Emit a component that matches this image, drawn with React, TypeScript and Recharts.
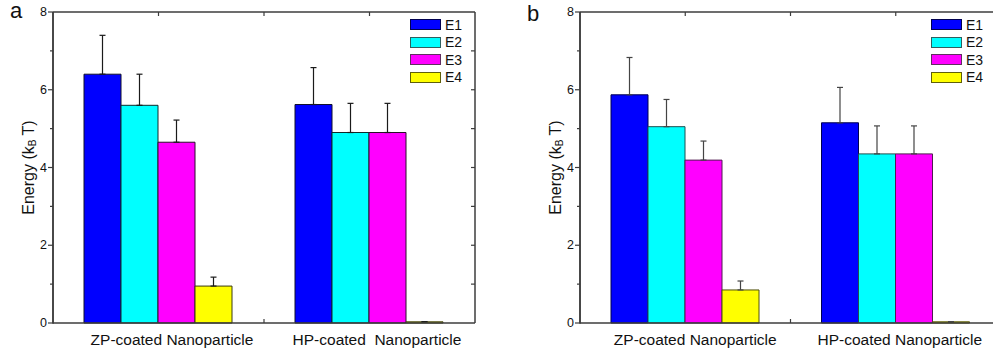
import React from 'react';
import { Bar, ComposedChart, ErrorBar, Legend, XAxis, YAxis } from 'recharts';

// categories / series
const catsA = ['ZP-coated Nanoparticle', 'HP-coated  Nanoparticle'];
const catsB = ['ZP-coated Nanoparticle', 'HP-coated Nanoparticle'];
const seriesNames = ['E1', 'E2', 'E3', 'E4'];
const yTicks = [0, 1, 2, 3, 4, 5, 6, 7, 8];

// panel a (energy in kBT, upper error)
const aE1 = [6.4, 5.62];
const aE2 = [5.6, 4.9];
const aE3 = [4.65, 4.9];
const aE4 = [0.95, 0.03];
const aE1Err = [1.0, 0.95];
const aE2Err = [0.8, 0.75];
const aE3Err = [0.57, 0.75];
const aE4Err = [0.23, 0];

// panel b
const bE1 = [5.87, 5.15];
const bE2 = [5.05, 4.35];
const bE3 = [4.19, 4.35];
const bE4 = [0.85, 0.03];
const bE1Err = [0.96, 0.91];
const bE2Err = [0.7, 0.72];
const bE3Err = [0.49, 0.72];
const bE4Err = [0.23, 0];

const FONT = '"Liberation Sans", Arial, sans-serif';
const AXIS = '#3c3c3c';
const fills = ['#0000ff', '#00ffff', '#ff00ff', '#ffff00'];
const H = 354;
const TOP = 12;
const XH = 31;

function buildRows(cats: string[], vals: number[][], errs: number[][]) {
  return cats.map((name, i) => {
    const row: any = { name };
    seriesNames.forEach((s, k) => {
      row[s] = vals[k][i];
      row[s + 'err'] = [0, errs[k][i]];
    });
    return row;
  });
}

const rowsA = buildRows(catsA, [aE1, aE2, aE3, aE4], [aE1Err, aE2Err, aE3Err, aE4Err]);
const rowsB = buildRows(catsB, [bE1, bE2, bE3, bE4], [bE1Err, bE2Err, bE3Err, bE4Err]);

const LeftTick = (props: any) => {
  const { x, y, payload } = props;
  const v = payload.value;
  const major = v % 2 === 0;
  if (!major) return <g />;
  return (
    <text x={x - 6} y={y} textAnchor="end" dominantBaseline="central" fontSize={12.5} fill="#111" fontFamily={FONT}>
      {v}
    </text>
  );
};

// box frame with tick marks around the plot area
function Frame({ width, x0, x1 }: { width: number; x0: number; x1: number }) {
  const y0 = TOP;
  const y1 = H - XH;
  const ky = (y1 - y0) / 8;
  return (
    <svg width={width} height={H} style={{ position: 'absolute', left: 0, top: 0, pointerEvents: 'none' }}>
      <g stroke={AXIS} strokeWidth={1.5} fill="none">
        <line x1={x0} x2={x0} y1={y0} y2={y1 + 0.75} />
        <line x1={x0} x2={x1} y1={y0} y2={y0} />
        <line x1={x1} x2={x1} y1={y0} y2={y1} />
      </g>
      <g stroke={AXIS} strokeWidth={1.2}>
        {yTicks.map((v) => (
          <line key={'l' + v} x1={x0} x2={x0 - (v % 2 === 0 ? 5 : 3)} y1={y1 - v * ky} y2={y1 - v * ky} />
        ))}
        {yTicks.slice(1, -1).map((v) => (
          <line key={'r' + v} x1={x1} x2={x1 - 4} y1={y1 - v * ky} y2={y1 - v * ky} />
        ))}
        {[1, 2, 3].map((q) => (
          <line key={'t' + q} x1={x0 + ((x1 - x0) * q) / 4} x2={x0 + ((x1 - x0) * q) / 4} y1={y0} y2={y0 + 4} />
        ))}
        <line x1={(x0 + x1) / 2} x2={(x0 + x1) / 2} y1={y1} y2={y1 - 4} />
      </g>
    </svg>
  );
}

function Panel({
  rows,
  width,
  yWidth,
  marginRight,
  strokes,
  legendStrokes,
  errColor,
  legendLeft,
  shifts,
}: {
  rows: any[];
  width: number;
  yWidth: number;
  marginRight: number;
  strokes: string[];
  legendStrokes: string[];
  errColor: string;
  legendLeft: number;
  shifts: number[];
}) {
  const CatTick = (p: any) => (
    <text
      x={p.x + shifts[p.index]}
      y={345}
      textAnchor="middle"
      fontSize={15.5}
      fill="#111"
      fontFamily={FONT}
      style={{ whiteSpace: 'pre' }}
    >
      {p.payload.value}
    </text>
  );
  const YLabel = (p: any) => {
    const vb = p.viewBox;
    const cx = vb.x + vb.width - 25;
    const cy = vb.y + vb.height / 2;
    return (
      <text
        x={cx}
        y={cy}
        transform={`rotate(-90 ${cx} ${cy})`}
        textAnchor="middle"
        dominantBaseline="central"
        fontSize={16}
        fill="#111"
        fontFamily={FONT}
      >
        Energy (k
        <tspan fontSize={10} dy={4}>B</tspan>
        <tspan dy={-4}> T)</tspan>
      </text>
    );
  };
  const LegendBox = () => (
    <div style={{ fontFamily: FONT, fontSize: 14, color: '#111' }}>
      {seriesNames.map((s, k) => (
        <div key={s} style={{ display: 'flex', alignItems: 'center', height: 17.5 }}>
          <div
            style={{
              width: 31,
              height: 11,
              boxSizing: 'border-box',
              background: fills[k],
              border: `1.3px solid ${legendStrokes[k]}`,
              marginRight: 4,
            }}
          />
          <span>{s}</span>
        </div>
      ))}
    </div>
  );
  return (
    <div style={{ position: 'relative', width, height: H }}>
      <ComposedChart
        width={width}
        height={H}
        data={rows}
        margin={{ top: TOP, right: marginRight, bottom: 0, left: 0 }}
        barGap={0}
        barCategoryGap={31}
      >
        <XAxis
          xAxisId="c"
          dataKey="name"
          height={XH}
          tickLine={false}
          axisLine={{ stroke: AXIS, strokeWidth: 1.5 }}
          tick={<CatTick />}
          interval={0}
        />
        <YAxis
          yAxisId="l"
          width={yWidth}
          domain={[0, 8]}
          ticks={yTicks}
          interval={0}
          tickLine={false}
          tickSize={0}
          tickMargin={0}
          tick={<LeftTick />}
          stroke={AXIS}
          axisLine={{ stroke: AXIS, strokeWidth: 1.5 }}
          label={<YLabel />}
        />
        <Legend
          layout="vertical"
          align="center"
          verticalAlign="middle"
          content={<LegendBox />}
          wrapperStyle={{ position: 'absolute', left: legendLeft, top: 16, width: 60 }}
        />
        {seriesNames.map((s, k) => (
          <Bar
            key={s}
            dataKey={s}
            xAxisId="c"
            yAxisId="l"
            fill={fills[k]}
            stroke={strokes[k]}
            strokeWidth={1}
            isAnimationActive={false}
          >
            <ErrorBar dataKey={s + 'err'} direction="y" width={3} stroke={errColor} strokeWidth={1.2} />
          </Bar>
        ))}
      </ComposedChart>
      <Frame width={width} x0={yWidth} x1={width - marginRight} />
    </div>
  );
}

export default function App() {
  return (
    <div
      style={{
        position: 'absolute',
        left: 0,
        top: 0,
        width: 993,
        height: 354,
        overflow: 'hidden',
        background: '#fff',
        fontFamily: FONT,
      }}
    >
      <div style={{ position: 'absolute', left: 0, top: 0 }}>
        <Panel
          rows={rowsA}
          width={493}
          yWidth={53}
          marginRight={18}
          strokes={['#10102a', '#102a2a', '#2a102a', '#3a3a10']}
          legendStrokes={['#000050', '#2f6060', '#602f60', '#60600a']}
          errColor="#1a1a1a"
          legendLeft={410}
          shifts={[13.5, 7.5]}
        />
      </div>
      <div style={{ position: 'absolute', left: 500, top: 0 }}>
        <Panel
          rows={rowsB}
          width={520}
          yWidth={80}
          marginRight={19}
          strokes={['#000050', '#1c5050', '#501c50', '#50500a']}
          legendStrokes={['#000050', '#2f6060', '#602f60', '#60600a']}
          errColor="#444"
          legendLeft={431}
          shifts={[10, 4]}
        />
      </div>
      <div style={{ position: 'absolute', left: 10, top: 1, fontSize: 22, lineHeight: '20px', color: '#111' }}>a</div>
      <div style={{ position: 'absolute', left: 527, top: 4, fontSize: 22, lineHeight: '20px', color: '#111' }}>b</div>
    </div>
  );
}
